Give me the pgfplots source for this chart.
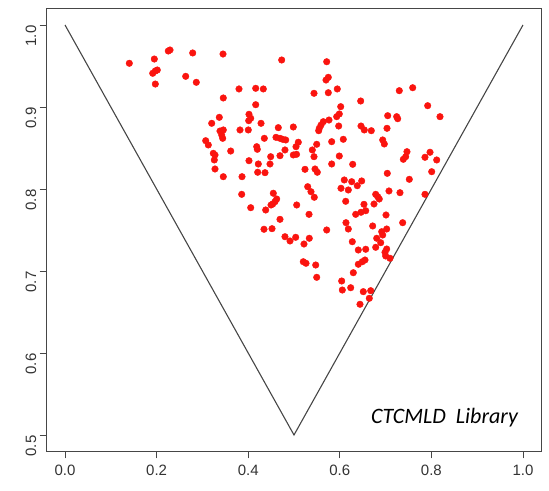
\documentclass[border=0pt]{standalone}
\usepackage{fontspec}
\setmainfont{Liberation Sans}
\newfontfamily\calibri{Carlito}
\usepackage{pgfplots}
\pgfplotsset{compat=1.18}
\definecolor{ptred}{RGB}{250,20,15}
\definecolor{frame}{RGB}{70,70,70}
\begin{document}
\begin{tikzpicture}
\begin{axis}[
  scale only axis, width=494.6pt, height=442.8pt,
  xmin=-0.04, xmax=1.04, ymin=0.48, ymax=1.02,
  axis line style={frame, line width=0.8pt},
  tick align=outside, major tick length=7pt,
  tick style={frame, line width=0.8pt},
  xtick={0,0.2,0.4,0.6,0.8,1.0}, ytick={0.5,0.6,0.7,0.8,0.9,1.0},
  xtick pos=bottom, ytick pos=left,
  /pgf/number format/assume math mode=true,
  ticklabel style={font=\fontsize{15}{17}\selectfont, text=black!80,
    /pgf/number format/fixed, /pgf/number format/fixed zerofill,
    /pgf/number format/precision=1},
  xticklabel style={yshift=-3pt},
  yticklabel style={rotate=90, anchor=south, xshift=-11pt},
]
\addplot[frame, line width=1.1pt] coordinates {(0,1) (0.5,0.5) (1,1)};
\addplot[only marks, mark=*, mark size=3.3pt, color=ptred, fill=ptred, draw=ptred]
  coordinates {
  (0.1404,0.9533) (0.1950,0.9585) (0.2255,0.9683) (0.2293,0.9695) (0.2788,0.9659)
  (0.3450,0.9646) (0.1915,0.9411) (0.1972,0.9439) (0.2015,0.9451) (0.1972,0.9280)
  (0.2635,0.9374) (0.2867,0.9301) (0.3799,0.9220) (0.4164,0.9228) (0.4330,0.9220)
  (0.3456,0.9110) (0.4164,0.9028) (0.4017,0.8911) (0.4055,0.8862) (0.4011,0.8833)
  (0.3369,0.8874) (0.3203,0.8801) (0.4280,0.8801) (0.4657,0.8748) (0.3384,0.8707)
  (0.3456,0.8720) (0.3421,0.8659) (0.3443,0.8618) (0.3821,0.8720) (0.4002,0.8720)
  (0.4352,0.8618) (0.4607,0.8630) (0.4694,0.8618) (0.3072,0.8589) (0.3129,0.8537)
  (0.3618,0.8463) (0.4186,0.8516) (0.4199,0.8484) (0.3238,0.8435) (0.3275,0.8415)
  (0.3260,0.8354) (0.4491,0.8394) (0.4017,0.8345) (0.4221,0.8305) (0.4476,0.8305)
  (0.3275,0.8244) (0.4731,0.9573) (0.5714,0.9552) (0.5699,0.9329) (0.5749,0.9362)
  (0.5437,0.9167) (0.5749,0.9174) (0.5945,0.9220) (0.6456,0.9073) (0.7299,0.9199)
  (0.7592,0.9235) (0.7919,0.9016) (0.8188,0.8882) (0.6020,0.9004) (0.5989,0.8915)
  (0.5932,0.8882) (0.5764,0.8841) (0.5640,0.8821) (0.5590,0.8780) (0.5552,0.8740)
  (0.5539,0.8711) (0.5976,0.8768) (0.7046,0.8894) (0.7242,0.8882) (0.7264,0.8857)
  (0.6463,0.8768) (0.6535,0.8720) (0.6688,0.8711) (0.7031,0.8740) (0.4985,0.8756)
  (0.4753,0.8606) (0.4819,0.8598) (0.5094,0.8570) (0.5044,0.8516) (0.4803,0.8476)
  (0.4694,0.8406) (0.4985,0.8415) (0.5055,0.8423) (0.5400,0.8476) (0.5496,0.8545)
  (0.5823,0.8577) (0.6076,0.8606) (0.5437,0.8394) (0.5989,0.8402) (0.6937,0.8598)
  (0.6972,0.8549) (0.7467,0.8455) (0.7439,0.8394) (0.7387,0.8362) (0.7860,0.8387)
  (0.7970,0.8448) (0.8116,0.8354) (0.5823,0.8305) (0.6282,0.8301) (0.5240,0.8240)
  (0.5459,0.8244) (0.8007,0.8211) (0.7518,0.8118) (0.7314,0.7955) (0.7860,0.7935)
  (0.3456,0.8150) (0.3865,0.8150) (0.4207,0.8204) (0.4367,0.8199) (0.5509,0.8204)
  (0.3858,0.7935) (0.4548,0.7948) (0.4622,0.7878) (0.4585,0.7845) (0.4535,0.7817)
  (0.4498,0.7805) (0.4055,0.7772) (0.4382,0.7744) (0.5059,0.7805) (0.5299,0.8028)
  (0.5371,0.7967) (0.5443,0.7899) (0.5328,0.7691) (0.4694,0.7630) (0.4345,0.7509)
  (0.4520,0.7516) (0.5714,0.7500) (0.6098,0.8110) (0.6260,0.8089) (0.6382,0.8040)
  (0.6026,0.8009) (0.6186,0.7988) (0.6129,0.7850) (0.6347,0.7691) (0.6135,0.7589)
  (0.6186,0.7512) (0.4803,0.7418) (0.4913,0.7366) (0.5037,0.7411) (0.5218,0.7329)
  (0.5334,0.7399) (0.6273,0.7357) (0.5203,0.7113) (0.5262,0.7094) (0.5474,0.7073)
  (0.5496,0.6923) (0.6404,0.7256) (0.6295,0.6979) (0.6404,0.7082) (0.6041,0.6878)
  (0.6055,0.6768) (0.6238,0.6796) (0.7037,0.8191) (0.7074,0.7976) (0.6478,0.8098)
  (0.6784,0.7935) (0.6828,0.7906) (0.6862,0.7878) (0.6528,0.7813) (0.6747,0.7817)
  (0.6463,0.7716) (0.6566,0.7735) (0.7009,0.7683) (0.6718,0.7549) (0.7373,0.7589)
  (0.7024,0.7512) (0.6915,0.7479) (0.6937,0.7439) (0.6806,0.7399) (0.6893,0.7345)
  (0.6784,0.7289) (0.7024,0.7268) (0.6987,0.7228) (0.7002,0.7183) (0.7096,0.7155)
  (0.6566,0.7265) (0.6550,0.7134) (0.6491,0.7113) (0.6513,0.6748) (0.6675,0.6760)
  (0.6644,0.6667) (0.6441,0.6594)
  };
\node[font=\calibri\itshape\fontsize{22}{24}\selectfont, anchor=center]
  at (axis cs:0.8286,0.5213) {CTCMLD\ \ Library};
\end{axis}
\path ([shift={(-46.7pt,-39.6pt)}]current axis.south west)
  rectangle ([shift={(7.7pt,8.6pt)}]current axis.north east);
\end{tikzpicture}
\end{document}
